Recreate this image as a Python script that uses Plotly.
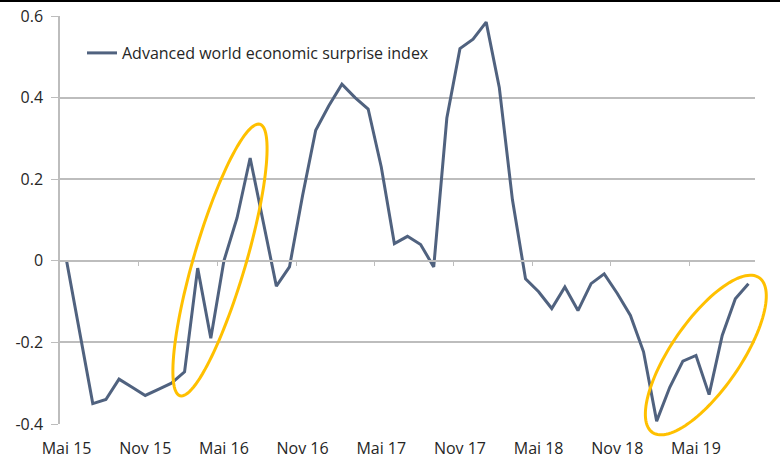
import math
import plotly.graph_objects as go

# ---- data ----
tick_labels = ["Mai 15", "Nov 15", "Mai 16", "Nov 16", "Mai 17",
               "Nov 17", "Mai 18", "Nov 18", "Mai 19"]
series_name = "Advanced world economic surprise index"
surprise_index = [0.0, -0.175, -0.35, -0.34, -0.29, -0.31, -0.33, -0.315, -0.30, -0.272,
                  -0.018, -0.19, 0.0, 0.105, 0.252, 0.095, -0.062, -0.015, 0.16, 0.32,
                  0.38, 0.433, 0.40, 0.372, 0.23, 0.042, 0.06, 0.04, -0.015, 0.35,
                  0.52, 0.543, 0.585, 0.425, 0.15, -0.044, -0.076, -0.117, -0.064, -0.122,
                  -0.056, -0.032, -0.08, -0.134, -0.223, -0.393, -0.31, -0.246, -0.232, -0.328,
                  -0.183, -0.093, -0.056]
y_ticks = [-0.4, -0.2, 0, 0.2, 0.4, 0.6]
y_tick_text = ["-0.4", "-0.2", "0", "0.2", "0.4", "0.6"]

n = len(surprise_index)
x_idx = list(range(n))
label_step = 6

# ---- layout geometry ----
W, H = 780, 461
ML, MR, MT, MB = 60, 25, 16, 37
PW, PH = W - ML - MR, H - MT - MB
x_range = [-0.5, n - 0.5]
y_range = [-0.4, 0.6]

FONT = "'Open Sans', Lato, sans-serif"
TXT = "#262626"
GRID = "#BDBDBD"
LINE = "#50627F"
HILITE = "#FFC000"


def to_paper_x(v):
    return (v - x_range[0]) / (x_range[1] - x_range[0])


def to_paper_y(v):
    return (v - y_range[0]) / (y_range[1] - y_range[0])


fig = go.Figure()
fig.add_trace(go.Scatter(
    x=x_idx, y=surprise_index, mode="lines", name=series_name,
    line=dict(color=LINE, width=3), showlegend=True,
))


def ellipse_path(cx, cy, a_px, b_px, theta_deg, npts=120):
    """Ellipse centred on data point (cx, cy); semi-axes in pixels; paper coords."""
    th = math.radians(theta_deg)
    pcx, pcy = to_paper_x(cx), to_paper_y(cy)
    pts = []
    for k in range(npts):
        t = 2 * math.pi * k / npts
        dx = a_px * math.cos(t) * math.cos(th) - b_px * math.sin(t) * math.sin(th)
        dy = a_px * math.cos(t) * math.sin(th) + b_px * math.sin(t) * math.cos(th)
        pts.append((pcx + dx / PW, pcy + dy / PH))
    return "M " + " L ".join(f"{px:.5f},{py:.5f}" for px, py in pts) + " Z"


# highlight ellipses (center in data units, semi-axes in pixels, tilt in degrees)
for cx, cy, a, b, th in [(11.7, 0.002, 141.5, 26.0, 73.6),
                         (48.75, -0.231, 94.0, 34.5, 55.4)]:
    fig.add_shape(type="path", path=ellipse_path(cx, cy, a, b, th),
                  xref="paper", yref="paper", line=dict(color=HILITE, width=3),
                  fillcolor="rgba(0,0,0,0)", layer="above")

# thin black border line at very top of image
fig.add_shape(type="line", xref="paper", yref="paper",
              x0=-ML / PW, x1=(W - ML) / PW,
              y0=1 + (MT - 1) / PH, y1=1 + (MT - 1) / PH,
              line=dict(color="#000000", width=2))

fig.update_layout(
    width=W, height=H, autosize=False,
    margin=dict(l=ML, r=MR, t=MT, b=MB, pad=0, autoexpand=False),
    paper_bgcolor="white", plot_bgcolor="white",
    font=dict(family=FONT, size=15, color=TXT),
    showlegend=True,
    legend=dict(x=(82 - ML) / PW, y=1 - (36 - MT) / PH, xanchor="left", yanchor="top",
                bgcolor="rgba(0,0,0,0)", itemwidth=30,
                font=dict(family=FONT, size=16, color=TXT)),
    xaxis=dict(
        range=x_range, tickmode="array", automargin=False,
        tickvals=x_idx[::label_step], ticktext=tick_labels,
        showgrid=False, zeroline=False, showline=False, ticks="",
        ticklabelstandoff=13,
        tickfont=dict(family=FONT, size=16, color=TXT),
    ),
    xaxis2=dict(
        overlaying="x", anchor="free", side="bottom", automargin=False,
        position=to_paper_y(0),
        range=x_range, tickmode="array",
        tickvals=[v - 0.5 for v in x_idx[label_step::label_step]],
        showticklabels=False, ticks="outside", ticklen=4, tickcolor=GRID,
        showline=True, linecolor=GRID, linewidth=1.5,
        showgrid=False, zeroline=False,
    ),
    yaxis=dict(
        range=y_range, tickmode="array", automargin=False,
        tickvals=y_ticks, ticktext=y_tick_text,
        showgrid=True, gridcolor=GRID, gridwidth=1.5,
        zeroline=False, showline=True, linecolor=GRID, linewidth=1.5,
        ticks="outside", ticklen=7, tickcolor=GRID, ticklabelstandoff=5,
        tickfont=dict(family=FONT, size=16, color=TXT),
    ),
)
# invisible helper so xaxis2 is rendered
fig.add_trace(go.Scatter(x=[None], y=[None], xaxis="x2", yaxis="y",
                         showlegend=False, hoverinfo="skip"))

fig.write_html("out.html", config={"displayModeBar": False},
               post_script="document.body.style.margin='0px';"
                           "document.documentElement.style.overflow='hidden';")
